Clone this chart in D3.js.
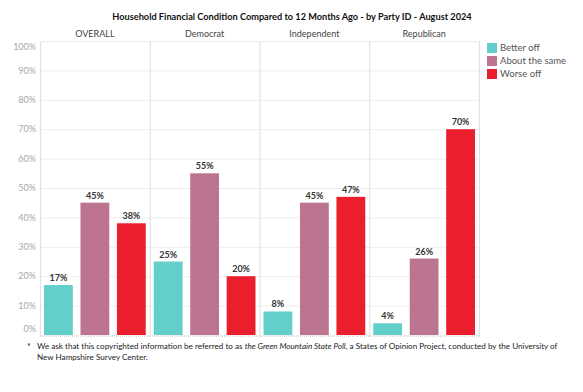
<!DOCTYPE html>
<html>
<head>
    <meta charset="utf-8">
    <title>Household Financial Condition</title>
    <script src="https://d3js.org/d3.v7.min.js"></script>
    <style>
        body { margin: 0; background: #fff; font-family: Lato, "Open Sans", sans-serif; }
    </style>
</head>
<body>
    <script>
        // Chart data
        const groups = ["OVERALL", "Democrat", "Independent", "Republican"];
        const series = ["Better off", "About the same", "Worse off"];
        const betterOff = [17, 25, 8, 4];
        const aboutSame = [45, 55, 45, 26];
        const worseOff = [38, 20, 47, 70];
        const yTicks = [0, 10, 20, 30, 40, 50, 60, 70, 80, 90, 100];
        const colors = ["#62CFCB", "#BC7490", "#EB1E2E"];

        const width = 583, height = 392;
        const plot = { left: 40, right: 479, top: 41, bottom: 335 };

        const svg = d3.select("body")
            .append("svg")
            .attr("width", width)
            .attr("height", height);

        // shrink a text's font until it fits the given width
        function fitWidth(sel, w, size) {
            sel.style("font-size", size + "px");
            const len = sel.node().getComputedTextLength();
            if (len > w) sel.style("font-size", (size * w / len) + "px");
        }

        // Scales
        const x0 = d3.scaleBand()
            .domain(groups)
            .range([plot.left, plot.right]);

        const x1 = d3.scaleBand()
            .domain(series)
            .range([0, x0.bandwidth()])
            .paddingInner(0.21)
            .paddingOuter(0.11);

        const y = d3.scaleLinear()
            .domain([0, 100])
            .range([plot.bottom, plot.top]);

        const color = d3.scaleOrdinal().domain(series).range(colors);

        // Title
        const title = svg.append("text")
            .attr("x", 292)
            .attr("y", 20)
            .attr("text-anchor", "middle")
            .style("font-weight", "bold")
            .style("fill", "#111")
            .text("Household Financial Condition Compared to 12 Months Ago - by Party ID - August 2024");
        fitWidth(title, 360, 10);

        // Gridlines
        svg.append("g")
            .selectAll("line")
            .data(yTicks.filter(d => d > 0))
            .join("line")
            .attr("x1", plot.left)
            .attr("x2", plot.right)
            .attr("y1", d => y(d) + 0.5)
            .attr("y2", d => y(d) + 0.5)
            .style("stroke", "#ededed")
            .style("stroke-width", 1);

        // Y tick labels
        svg.append("g")
            .selectAll("text")
            .data(yTicks)
            .join("text")
            .attr("x", 36)
            .attr("y", d => d === 100 ? y(d) + 6 : d === 0 ? y(d) - 6 : y(d))
            .attr("dy", "0.35em")
            .attr("text-anchor", "end")
            .style("font-size", "9px")
            .style("fill", "#a8a8a8")
            .text(d => d + "%");

        // Panel borders
        svg.append("g")
            .selectAll("line")
            .data(groups.concat(["end"]))
            .join("line")
            .attr("x1", (d, i) => i < groups.length ? x0(d) + 0.5 : plot.right + 0.5)
            .attr("x2", (d, i) => i < groups.length ? x0(d) + 0.5 : plot.right + 0.5)
            .attr("y1", plot.top)
            .attr("y2", plot.bottom + 2)
            .style("stroke", "#e2e2e2")
            .style("stroke-width", 1.2);

        svg.append("line")
            .attr("x1", plot.left)
            .attr("x2", plot.right)
            .attr("y1", plot.top + 0.5)
            .attr("y2", plot.top + 0.5)
            .style("stroke", "#ededed");

        svg.append("line")
            .attr("x1", plot.left)
            .attr("x2", plot.right)
            .attr("y1", plot.bottom + 1)
            .attr("y2", plot.bottom + 1)
            .style("stroke", "#dcdcdc")
            .style("stroke-width", 2)
            .style("stroke-dasharray", "1,1");

        // Panel headers
        svg.append("g")
            .selectAll("text")
            .data(groups)
            .join("text")
            .attr("x", d => x0(d) + x0.bandwidth() / 2)
            .attr("y", 37)
            .attr("text-anchor", "middle")
            .style("font-size", "9px")
            .style("fill", "#444")
            .text(d => d);

        // Bars
        const rows = groups.map((g, i) => ({
            group: g,
            values: [betterOff[i], aboutSame[i], worseOff[i]].map((v, j) => ({ key: series[j], value: v }))
        }));

        const panel = svg.append("g")
            .selectAll("g")
            .data(rows)
            .join("g")
            .attr("transform", d => `translate(${x0(d.group)},0)`);

        panel.selectAll("rect")
            .data(d => d.values)
            .join("rect")
            .attr("x", d => x1(d.key))
            .attr("y", d => y(d.value))
            .attr("width", x1.bandwidth())
            .attr("height", d => y(0) - y(d.value))
            .style("fill", d => color(d.key));

        panel.selectAll("text")
            .data(d => d.values)
            .join("text")
            .attr("x", d => x1(d.key) + x1.bandwidth() / 2)
            .attr("y", d => y(d.value) - 4)
            .attr("text-anchor", "middle")
            .style("font-size", "9px")
            .style("font-weight", "bold")
            .style("fill", "#333")
            .text(d => d.value + "%");

        // Legend
        const legend = svg.append("g")
            .selectAll("g")
            .data(series)
            .join("g")
            .attr("transform", (d, i) => `translate(487,${43 + i * 13})`);

        legend.append("rect")
            .attr("width", 10)
            .attr("height", 10)
            .style("fill", d => color(d));

        legend.append("text")
            .attr("x", 13)
            .attr("y", 5)
            .attr("dy", "0.35em")
            .style("font-size", "9.5px")
            .style("fill", "#555")
            .text(d => d);

        // Footnote
        svg.append("text")
            .attr("x", 27)
            .attr("y", 350)
            .style("font-size", "9px")
            .style("fill", "#222")
            .text("*");

        const note = svg.append("text")
            .attr("x", 37)
            .attr("y", 349)
            .style("fill", "#222");
        note.append("tspan").text("We ask that this copyrighted information be referred to as ");
        note.append("tspan").style("font-style", "italic").text("the Green Mountain State Poll");
        note.append("tspan").text(", a States of Opinion Project, conducted by the University of");
        fitWidth(note, 521, 9);

        svg.append("text")
            .attr("x", 37)
            .attr("y", 360)
            .style("font-size", note.style("font-size"))
            .style("fill", "#222")
            .text("New Hampshire Survey Center.");
    </script>
</body>
</html>
